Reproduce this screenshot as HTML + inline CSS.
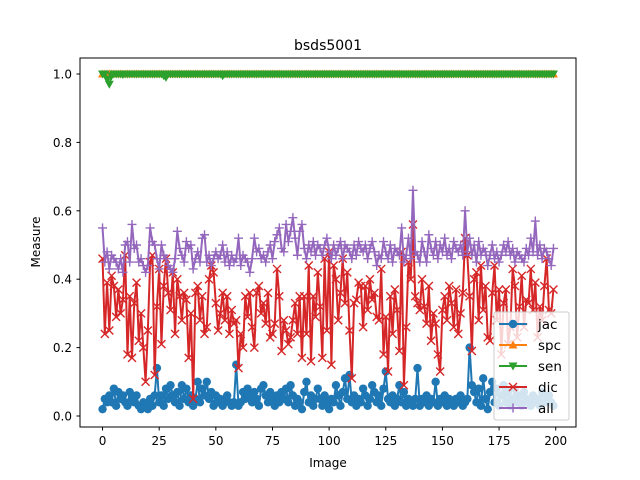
<!DOCTYPE html>
<html><head><meta charset="utf-8"><style>
body{margin:0;background:#fff;}
svg{display:block;font-family:"DejaVu Sans","Liberation Sans",sans-serif;}
</style></head><body>
<svg id="chart" width="640" height="480" xmlns="http://www.w3.org/2000/svg">
<rect width="640" height="480" fill="#fff"/>
<text x="328" y="50" font-size="14" text-anchor="middle">bsds5001</text>
<g id="plot"></g>
<rect x="80" y="58" width="496" height="369" fill="none" stroke="#000" stroke-width="1"/>
<g id="ticks"></g>
<text x="328" y="467" font-size="12" text-anchor="middle">Image</text>
<text x="0" y="0" font-size="12" text-anchor="middle" transform="translate(40,242) rotate(-90)">Measure</text>
<g id="legend"></g>
</svg>
<script>
const jac=[.02,.05,.04,.06,.04,.08,.03,.07,.05,.06,.04,.03,.07,.05,.04,.06,.03,.02,.04,.03,
.02,.05,.03,.06,.14,.04,.06,.03,.08,.05,.09,.06,.04,.07,.03,.09,.05,.08,.04,.06,
.03,.05,.10,.04,.08,.06,.10,.05,.07,.03,.06,.04,.05,.03,.04,.06,.04,.03,.04,.15,
.03,.04,.07,.05,.08,.06,.04,.07,.05,.03,.08,.09,.06,.04,.07,.05,.03,.06,.04,.07,
.05,.08,.04,.09,.06,.03,.05,.04,.02,.07,.10,.04,.06,.03,.05,.08,.05,.03,.06,.04,
.02,.05,.04,.09,.06,.03,.07,.11,.05,.12,.04,.06,.03,.05,.04,.08,.06,.03,.05,.09,
.07,.04,.06,.03,.08,.13,.05,.04,.06,.03,.05,.09,.04,.07,.03,.05,.04,.03,.05,.14,
.03,.05,.04,.06,.03,.05,.04,.10,.03,.05,.04,.06,.03,.05,.04,.03,.05,.04,.06,.03,
.04,.05,.20,.09,.07,.04,.08,.03,.11,.05,.02,.07,.10,.04,.08,.03,.06,.09,.04,.07,
.03,.05,.08,.04,.06,.03,.07,.05,.04,.03,.06,.04,.05,.03,.07,.04,.05,.06,.04,.03];
const spc=Array(200).fill(1.0);
const sen=[1,1,.985,.97,.995,1,1,1,1,.998,1,1,1,1,1,1,1,1,1,1,
1,1,1,1,1,1,1,.995,.99,1,1,1,1,1,1,1,1,1,1,1,
1,1,1,1,1,1,1,1,1,1,1,1,1,.995,1,1,1,1,1,1,
1,1,1,1,1,1,1,1,1,1,1,1,1,1,1,1,1,1,1,1,
1,1,1,1,1,1,1,1,1,1,1,1,1,1,1,1,1,1,1,1,
1,1,1,1,1,1,1,1,1,1,1,1,1,1,1,1,1,1,1,1,
1,1,1,1,1,1,1,1,1,1,1,1,1,1,1,1,1,1,1,1,
1,1,1,1,1,1,1,1,1,1,1,1,1,1,1,1,1,1,1,1,
1,1,1,1,1,1,1,1,1,1,1,1,1,1,1,1,1,1,1,1,
1,1,1,1,1,1,1,1,1,1,1,1,1,1,1,1,1,1,1,1];
const dic=[.46,.24,.39,.25,.41,.38,.29,.37,.30,.34,.47,.18,.35,.17,.33,.39,.22,.30,.20,.10,
.25,.45,.47,.12,.32,.43,.21,.38,.46,.36,.31,.42,.24,.40,.35,.28,.36,.34,.17,.30,
.05,.36,.38,.28,.35,.24,.26,.40,.44,.42,.33,.25,.30,.36,.28,.35,.24,.31,.27,.28,
.14,.24,.20,.35,.29,.36,.26,.20,.36,.38,.30,.33,.27,.36,.23,.24,.27,.43,.35,.19,
.28,.25,.21,.23,.28,.33,.24,.35,.17,.35,.24,.44,.16,.35,.29,.42,.32,.17,.46,.25,
.48,.15,.44,.40,.28,.36,.46,.33,.42,.25,.11,.33,.34,.39,.38,.26,.38,.31,.40,.34,
.36,.29,.28,.43,.18,.29,.13,.35,.24,.37,.31,.19,.48,.09,.26,.45,.40,.56,.35,.33,
.31,.40,.32,.27,.38,.22,.30,.27,.18,.13,.31,.35,.28,.38,.33,.26,.37,.24,.30,.36,
.52,.47,.35,.19,.40,.42,.28,.44,.31,.38,.23,.22,.36,.44,.28,.37,.18,.33,.37,.21,
.26,.43,.38,.23,.32,.41,.26,.34,.33,.43,.31,.39,.23,.32,.28,.38,.46,.31,.30,.37];
const all=[.55,.45,.48,.43,.47,.46,.45,.43,.46,.42,.50,.51,.45,.56,.49,.50,.45,.46,.44,.42,
.44,.55,.51,.50,.46,.43,.50,.47,.46,.44,.43,.42,.46,.54,.49,.47,.45,.51,.49,.50,
.43,.46,.48,.45,.52,.53,.45,.47,.44,.46,.48,.46,.47,.50,.45,.48,.44,.47,.45,.46,
.52,.44,.47,.46,.45,.42,.46,.52,.48,.49,.46,.47,.45,.48,.50,.46,.51,.53,.55,.49,
.48,.56,.51,.54,.58,.52,.47,.54,.56,.49,.46,.50,.48,.51,.47,.50,.49,.47,.50,.52,
.48,.46,.50,.47,.49,.51,.46,.50,.49,.48,.46,.50,.47,.51,.49,.48,.50,.46,.49,.51,
.48,.44,.47,.46,.51,.48,.46,.50,.45,.49,.48,.47,.55,.45,.47,.52,.46,.66,.48,.47,
.45,.51,.48,.45,.53,.49,.47,.51,.46,.50,.48,.52,.47,.49,.46,.51,.49,.48,.50,.47,
.60,.48,.52,.47,.50,.45,.51,.47,.49,.48,.44,.47,.50,.46,.48,.45,.47,.50,.48,.51,
.47,.49,.45,.48,.47,.46,.45,.49,.47,.52,.48,.57,.47,.50,.46,.49,.48,.46,.44,.49];
const xTicks=[0,25,50,75,100,125,150,175,200];
const yTicks=[0,0.2,0.4,0.6,0.8,1.0];
const yTickLabels=["0.0","0.2","0.4","0.6","0.8","1.0"];

const NS="http://www.w3.org/2000/svg";
const X=v=>80+(v+9.95)*496/218.9;
const Y=v=>416-v*342;
function mk(t,a,p){const e=document.createElementNS(NS,t);for(const k in a)e.setAttribute(k,a[k]);p.appendChild(e);return e;}
const plot=document.getElementById('plot');
const ticks=document.getElementById('ticks');
xTicks.forEach(t=>{
  const l=mk('line',{x1:X(t),x2:X(t),y1:427,y2:430.5,stroke:'#000'},ticks);
  
  
  const s=mk('text',{x:X(t),y:445,'font-size':12,'text-anchor':'middle'},ticks);
  s.textContent=t;
  
  
});
yTicks.forEach((t,i)=>{
  const l=mk('line',{x1:76.5,x2:80,y1:Y(t),y2:Y(t),stroke:'#000'},ticks);
  
  
  const s=mk('text',{x:72,y:Y(t)+4.5,'font-size':12,'text-anchor':'end'},ticks);
  s.textContent=yTickLabels[i];
  
  
});
function marker(kind,x,y,c,p){
  if(kind==='o')return mk('circle',{cx:x,cy:y,r:4.2,fill:c},p);
  if(kind==='^')return mk('polygon',{points:`${x},${y-4.5} ${x-4.5},${y+3.5} ${x+4.5},${y+3.5}`,fill:c},p);
  if(kind==='v')return mk('polygon',{points:`${x},${y+4.5} ${x-4.5},${y-3.5} ${x+4.5},${y-3.5}`,fill:c},p);
  if(kind==='x')return mk('path',{d:`M${x-4},${y-4}L${x+4},${y+4}M${x-4},${y+4}L${x+4},${y-4}`,stroke:c,'stroke-width':1.4},p);
  return mk('path',{d:`M${x-4.5},${y}L${x+4.5},${y}M${x},${y-4.5}L${x},${y+4.5}`,stroke:c,'stroke-width':1.4},p);
}
const series=[['jac',jac,'#1f77b4','o'],['spc',spc,'#ff7f0e','^'],['sen',sen,'#2ca02c','v'],['dic',dic,'#d62728','x'],['all',all,'#9467bd','+']];
series.forEach(([n,d,c,m])=>{
  const g=mk('g',{},plot);
  
  
  const ln=mk('polyline',{points:d.map((v,i)=>X(i)+','+Y(v)).join(' '),fill:'none',stroke:c,'stroke-width':2,'stroke-linejoin':'round'},g);
  
  
  d.forEach((v,i)=>{const mm=marker(m,X(i),Y(v),c,g);
    
    });
});
const lg=document.getElementById('legend');
const box=mk('rect',{x:494,y:312,width:75,height:108,rx:2,fill:'#fff','fill-opacity':0.8,stroke:'#ccc'},lg);


series.forEach(([n,d,c,m],i)=>{
  const y=324+i*21;
  const g=mk('g',{},lg);
  
  
  mk('line',{x1:499,x2:527,y1:y,y2:y,stroke:c,'stroke-width':2},g);
  marker(m,513,y,c,g);
  const t=mk('text',{x:538,y:y+5,'font-size':13.5},g);
  t.textContent=n;
});
</script>
</body></html>
